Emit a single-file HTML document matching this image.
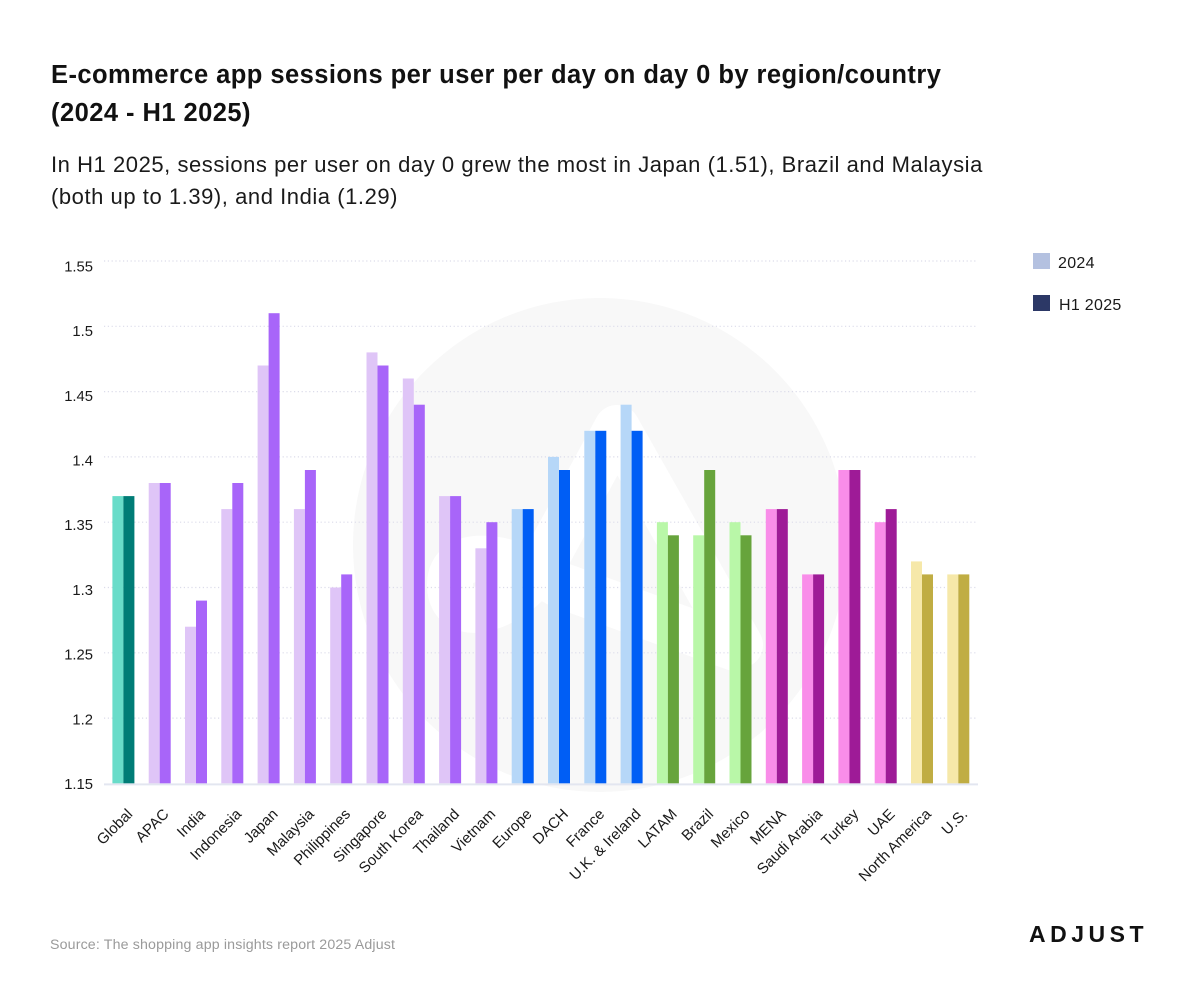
<!DOCTYPE html>
<html>
<head>
<meta charset="utf-8">
<style>
html,body{margin:0;padding:0;background:#fff;}
svg{display:block;}
text{font-family:"Liberation Sans",sans-serif;}
</style>
</head>
<body>
<svg width="1200" height="1000" viewBox="0 0 1200 1000" xmlns="http://www.w3.org/2000/svg">
<rect width="1200" height="1000" fill="#fff"/>
<!-- title -->
<text x="51" y="83" font-size="25.5" font-weight="bold" fill="#111" letter-spacing="0.45">E-commerce app sessions per user per day on day 0 by region/country</text>
<text x="51" y="121" font-size="25.5" font-weight="bold" fill="#111" letter-spacing="0.45">(2024 - H1 2025)</text>
<text x="51" y="172" font-size="22" fill="#1a1a1a" letter-spacing="0.55">In H1 2025, sessions per user on day 0 grew the most in Japan (1.51), Brazil and Malaysia</text>
<text x="51" y="204" font-size="22" fill="#1a1a1a" letter-spacing="0.55">(both up to 1.39), and India (1.29)</text>

<!-- background logo -->
<circle cx="600" cy="545" r="247" fill="#f8f8f8"/>
<path d="M740,645 L617,428 L548,555 C520,610 450,630 450,585 C450,545 510,555 560,585 L735,648" fill="none" stroke="#fff" stroke-width="46" stroke-linejoin="round" stroke-linecap="round"/>

<!-- grid -->
<g stroke="#dcdcea" stroke-width="1.2" stroke-dasharray="1.2 2.6">
<line x1="104" x2="978" y1="261" y2="261"/>
<line x1="104" x2="978" y1="326.3" y2="326.3"/>
<line x1="104" x2="978" y1="391.6" y2="391.6"/>
<line x1="104" x2="978" y1="456.9" y2="456.9"/>
<line x1="104" x2="978" y1="522.2" y2="522.2"/>
<line x1="104" x2="978" y1="587.5" y2="587.5"/>
<line x1="104" x2="978" y1="652.8" y2="652.8"/>
<line x1="104" x2="978" y1="718.1" y2="718.1"/>
</g>

<!-- y labels -->
<g font-size="14.8" fill="#1a1a1a" text-anchor="end">
<text x="93" y="271.4">1.55</text>
<text x="93" y="336.1">1.5</text>
<text x="93" y="400.8">1.45</text>
<text x="93" y="465.5">1.4</text>
<text x="93" y="530.2">1.35</text>
<text x="93" y="594.9">1.3</text>
<text x="93" y="659.6">1.25</text>
<text x="93" y="724.3">1.2</text>
<text x="93" y="789">1.15</text>
</g>

<!-- bars -->
<g>
<rect x="112.4" y="496.1" width="11" height="287.3" fill="#69dcc9"/>
<rect x="123.4" y="496.1" width="11" height="287.3" fill="#007c76"/>
<rect x="148.7" y="483.0" width="11" height="300.4" fill="#dfc5f7"/>
<rect x="159.7" y="483.0" width="11" height="300.4" fill="#a865f9"/>
<rect x="185.0" y="626.7" width="11" height="156.7" fill="#dfc5f7"/>
<rect x="196.0" y="600.6" width="11" height="182.8" fill="#a865f9"/>
<rect x="221.3" y="509.1" width="11" height="274.3" fill="#dfc5f7"/>
<rect x="232.3" y="483.0" width="11" height="300.4" fill="#a865f9"/>
<rect x="257.6" y="365.5" width="11" height="417.9" fill="#dfc5f7"/>
<rect x="268.6" y="313.2" width="11" height="470.2" fill="#a865f9"/>
<rect x="293.9" y="509.1" width="11" height="274.3" fill="#dfc5f7"/>
<rect x="304.9" y="470.0" width="11" height="313.4" fill="#a865f9"/>
<rect x="330.2" y="587.5" width="11" height="195.9" fill="#dfc5f7"/>
<rect x="341.2" y="574.4" width="11" height="209.0" fill="#a865f9"/>
<rect x="366.5" y="352.4" width="11" height="431.0" fill="#dfc5f7"/>
<rect x="377.5" y="365.5" width="11" height="417.9" fill="#a865f9"/>
<rect x="402.8" y="378.5" width="11" height="404.9" fill="#dfc5f7"/>
<rect x="413.8" y="404.7" width="11" height="378.7" fill="#a865f9"/>
<rect x="439.1" y="496.1" width="11" height="287.3" fill="#dfc5f7"/>
<rect x="450.1" y="496.1" width="11" height="287.3" fill="#a865f9"/>
<rect x="475.4" y="548.3" width="11" height="235.1" fill="#dfc5f7"/>
<rect x="486.4" y="522.2" width="11" height="261.2" fill="#a865f9"/>
<rect x="511.7" y="509.1" width="11" height="274.3" fill="#b6d7f8"/>
<rect x="522.7" y="509.1" width="11" height="274.3" fill="#005ef5"/>
<rect x="548.0" y="456.9" width="11" height="326.5" fill="#b6d7f8"/>
<rect x="559.0" y="470.0" width="11" height="313.4" fill="#005ef5"/>
<rect x="584.3" y="430.8" width="11" height="352.6" fill="#b6d7f8"/>
<rect x="595.3" y="430.8" width="11" height="352.6" fill="#005ef5"/>
<rect x="620.6" y="404.7" width="11" height="378.7" fill="#b6d7f8"/>
<rect x="631.6" y="430.8" width="11" height="352.6" fill="#005ef5"/>
<rect x="656.9" y="522.2" width="11" height="261.2" fill="#b9f7a8"/>
<rect x="667.9" y="535.3" width="11" height="248.1" fill="#67a43c"/>
<rect x="693.2" y="535.3" width="11" height="248.1" fill="#b9f7a8"/>
<rect x="704.2" y="470.0" width="11" height="313.4" fill="#67a43c"/>
<rect x="729.5" y="522.2" width="11" height="261.2" fill="#b9f7a8"/>
<rect x="740.5" y="535.3" width="11" height="248.1" fill="#67a43c"/>
<rect x="765.8" y="509.1" width="11" height="274.3" fill="#f98de9"/>
<rect x="776.8" y="509.1" width="11" height="274.3" fill="#9e1b97"/>
<rect x="802.1" y="574.4" width="11" height="209.0" fill="#f98de9"/>
<rect x="813.1" y="574.4" width="11" height="209.0" fill="#9e1b97"/>
<rect x="838.4" y="470.0" width="11" height="313.4" fill="#f98de9"/>
<rect x="849.4" y="470.0" width="11" height="313.4" fill="#9e1b97"/>
<rect x="874.7" y="522.2" width="11" height="261.2" fill="#f98de9"/>
<rect x="885.7" y="509.1" width="11" height="274.3" fill="#9e1b97"/>
<rect x="911.0" y="561.4" width="11" height="222.0" fill="#f6e8a9"/>
<rect x="922.0" y="574.4" width="11" height="209.0" fill="#c0ad43"/>
<rect x="947.3" y="574.4" width="11" height="209.0" fill="#f6e8a9"/>
<rect x="958.3" y="574.4" width="11" height="209.0" fill="#c0ad43"/>
</g>

<!-- axis -->
<line x1="104" x2="978" y1="784.4" y2="784.4" stroke="#e3e6f0" stroke-width="2"/>

<!-- x labels -->
<g font-size="15" fill="#1a1a1a" text-anchor="end">
<text transform="translate(133.4,815) rotate(-45)">Global</text>
<text transform="translate(169.7,815) rotate(-45)">APAC</text>
<text transform="translate(206.0,815) rotate(-45)">India</text>
<text transform="translate(242.3,815) rotate(-45)">Indonesia</text>
<text transform="translate(278.6,815) rotate(-45)">Japan</text>
<text transform="translate(314.9,815) rotate(-45)">Malaysia</text>
<text transform="translate(351.2,815) rotate(-45)">Philippines</text>
<text transform="translate(387.5,815) rotate(-45)">Singapore</text>
<text transform="translate(423.8,815) rotate(-45)">South Korea</text>
<text transform="translate(460.1,815) rotate(-45)">Thailand</text>
<text transform="translate(496.4,815) rotate(-45)">Vietnam</text>
<text transform="translate(532.7,815) rotate(-45)">Europe</text>
<text transform="translate(569.0,815) rotate(-45)">DACH</text>
<text transform="translate(605.3,815) rotate(-45)">France</text>
<text transform="translate(641.6,815) rotate(-45)">U.K. &amp; Ireland</text>
<text transform="translate(677.9,815) rotate(-45)">LATAM</text>
<text transform="translate(714.2,815) rotate(-45)">Brazil</text>
<text transform="translate(750.5,815) rotate(-45)">Mexico</text>
<text transform="translate(786.8,815) rotate(-45)">MENA</text>
<text transform="translate(823.1,815) rotate(-45)">Saudi Arabia</text>
<text transform="translate(859.4,815) rotate(-45)">Turkey</text>
<text transform="translate(895.7,815) rotate(-45)">UAE</text>
<text transform="translate(932.0,815) rotate(-45)">North America</text>
<text transform="translate(968.3,815) rotate(-45)">U.S.</text>
</g>

<!-- legend -->
<rect x="1033" y="253" width="17" height="16" fill="#b4c1e0"/>
<text x="1058" y="268" font-size="16" fill="#1a1a1a" letter-spacing="0.3">2024</text>
<rect x="1033" y="295" width="17" height="16" fill="#2c3866"/>
<text x="1059" y="310" font-size="16" fill="#1a1a1a" letter-spacing="0.3">H1 2025</text>

<!-- footer -->
<text x="50" y="949" font-size="14.2" fill="#9a9a9a" letter-spacing="0.15">Source: The shopping app insights report 2025 Adjust</text>
<text x="1029" y="942" font-size="23" font-weight="bold" fill="#111" letter-spacing="4.5">ADJUST</text>
</svg>
</body>
</html>
